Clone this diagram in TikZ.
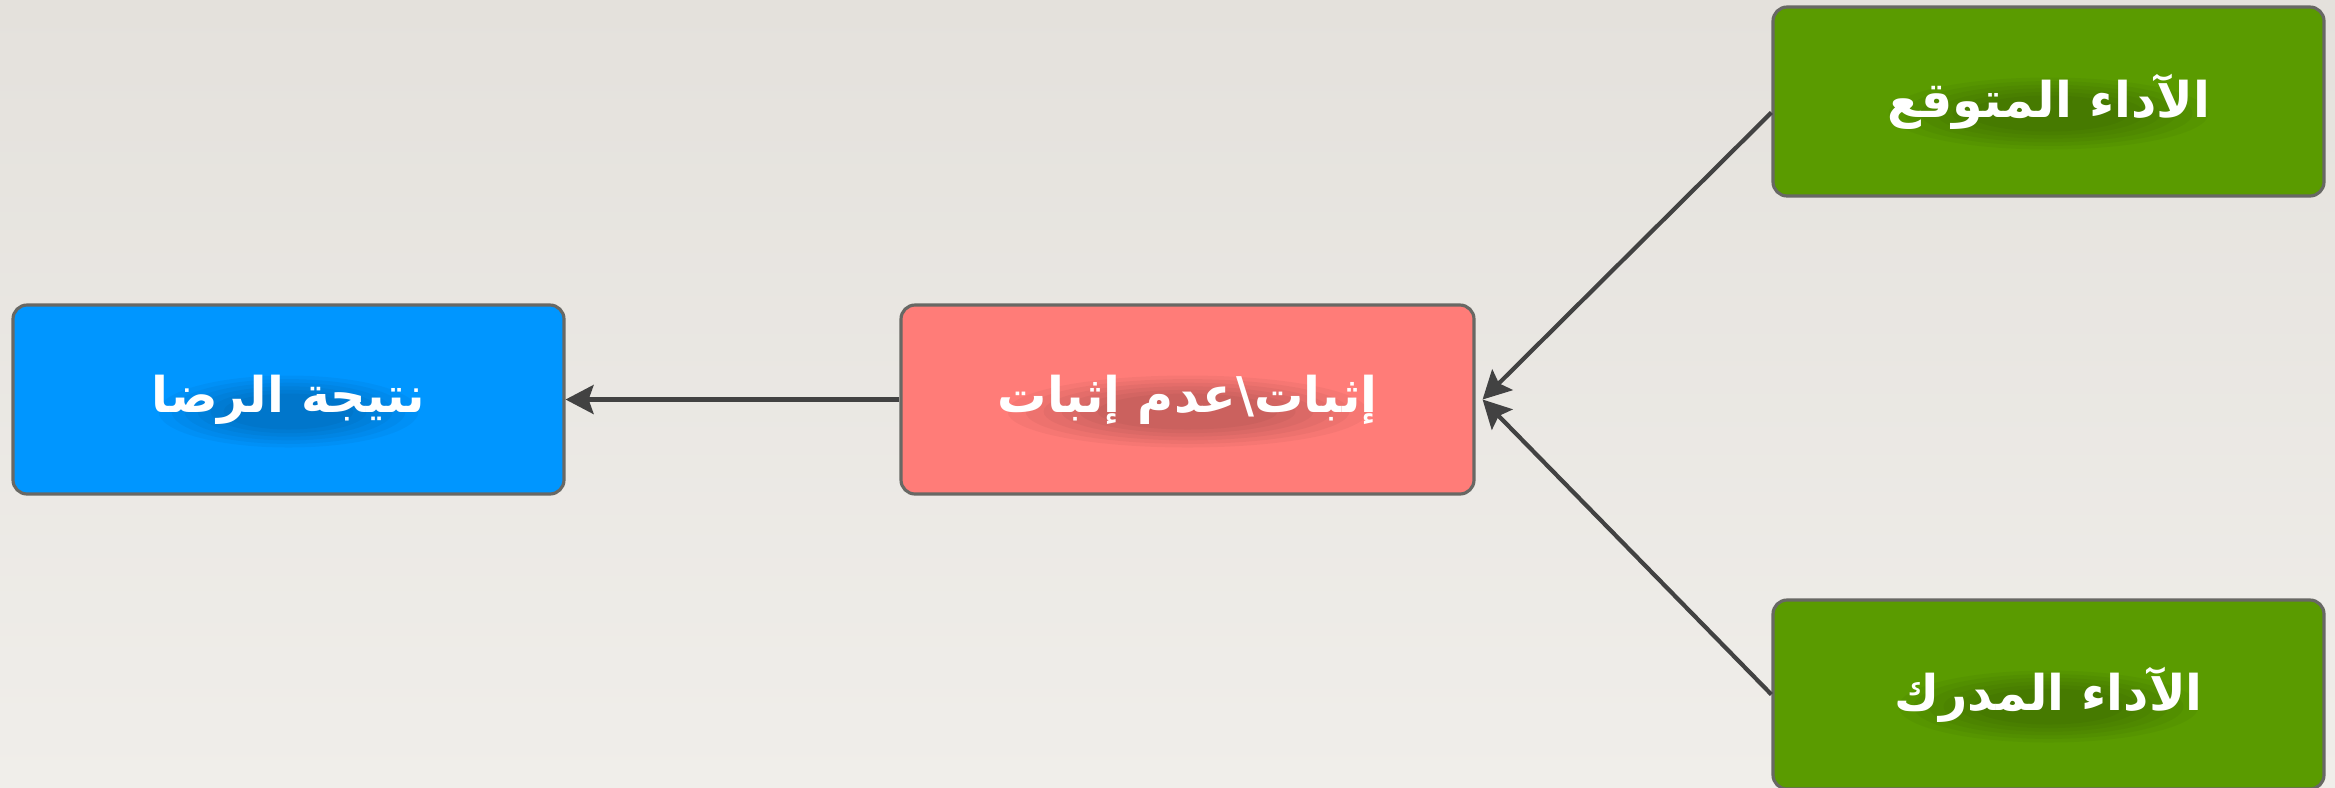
\documentclass[tikz,border=0pt]{standalone}
\usepackage{fontspec}
\newfontfamily\arabicfont[Script=Arabic]{DejaVu Sans}
\TeXXeTstate=1
\usetikzlibrary{arrows.meta}

\begin{document}
\begin{tikzpicture}[thick]
  % Colours picked from the chart
  \definecolor{cBgTop}{RGB}{228, 225, 220}
  \definecolor{cBgBot}{RGB}{240, 238, 234}
  \definecolor{cEdge}{RGB}{104, 104, 100}
  \definecolor{cLink}{RGB}{66, 66, 66}
  \definecolor{cGreen}{RGB}{90, 155, 0}
  \definecolor{cPink}{RGB}{255, 124, 120}
  \definecolor{cBlue}{RGB}{0, 150, 255}

  \tikzset{
    box/.style={font=\arabicfont\bfseries\fontsize{14}{16}\selectfont,
      draw=cEdge, line width=0.9pt, rounded corners=4pt,
      minimum width=5.51cm, minimum height=1.89cm, text=white, inner sep=0pt},
    % soft dark glow behind the label
    glow/.style={path picture={
      \foreach \r in {1,0.9,0.8,0.7,0.6,0.5}
        \fill[black, opacity=0.035]
          ([yshift=-0.12cm]path picture bounding box.center)
          ellipse ({#1*\r} and {0.36*\r});
    }},
    link/.style={draw=cLink, line width=1.2pt, rounded corners=0pt,
      -{Stealth[length=2.8mm, width=2.9mm, inset=0.5mm]}}
  }

  % Paper background, 1px = 0.01cm
  \shade[top color=cBgTop, bottom color=cBgBot] (0,0) rectangle (23.35,-7.87);
  \useasboundingbox (0,0) rectangle (23.35,-7.87);

  % Boxes
  \node[box, fill=cGreen, glow=1.6] (expected) at (20.485,-1.015)
    {\beginR الآداء المتوقع\endR};
  \node[box, fill=cGreen, glow=1.5] (perceived) at (20.485,-6.945)
    {\beginR الآداء المدرك\endR};
  \node[box, fill=cPink, minimum width=5.73cm, glow=1.8] (confirm) at (11.875,-3.995)
    {\beginR إثبات\textbackslash عدم إثبات\endR};
  \node[box, fill=cBlue, glow=1.3] (result) at (2.885,-3.995)
    {\beginR نتيجة الرضا\endR};

  % Connectors
  \coordinate (hub) at ([xshift=0.07cm]confirm.east);
  \draw[link] ([yshift=-0.11cm]expected.west) -- (hub);
  \draw[link] (perceived.west) -- (hub);
  \draw[link] (confirm.west) -- (result.east);
\end{tikzpicture}
\end{document}
